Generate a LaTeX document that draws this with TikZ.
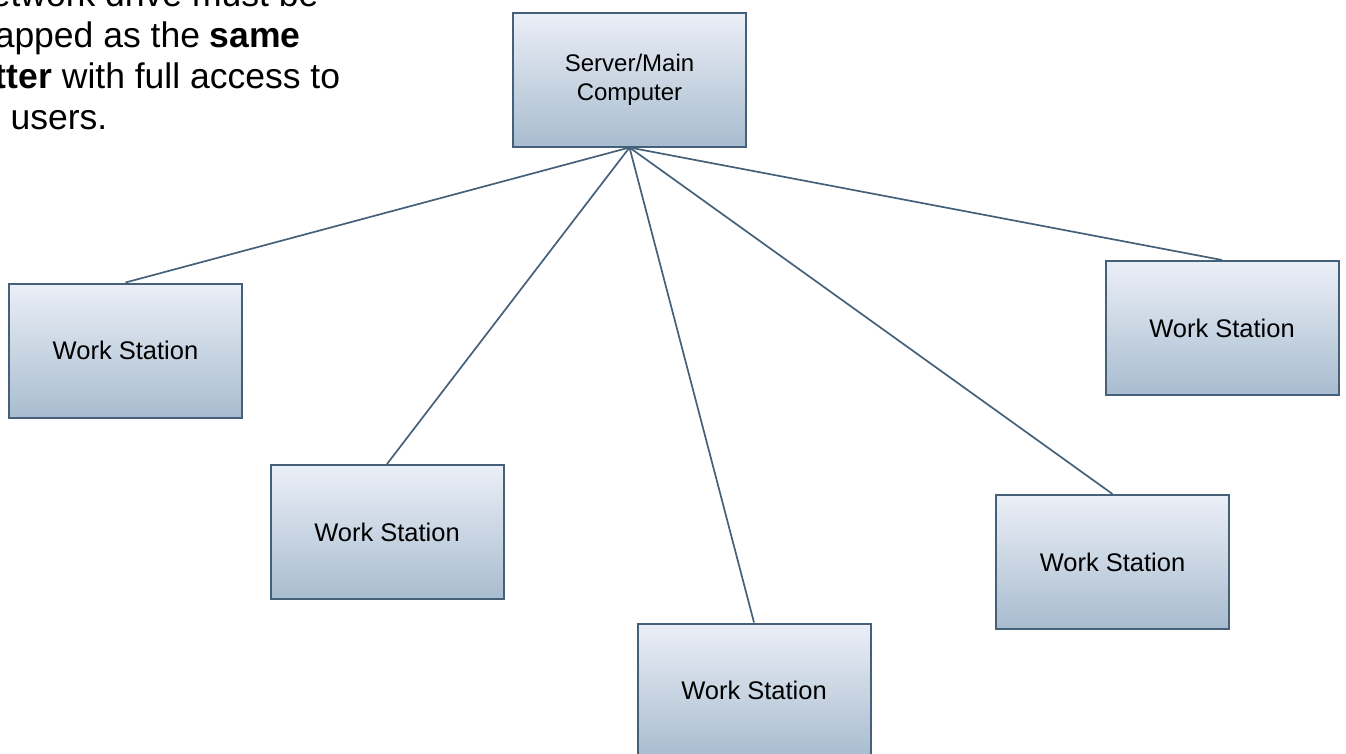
\documentclass[tikz,border=0pt]{standalone}
\usepackage{fontspec}
\setmainfont{Liberation Sans}
\definecolor{wsline}{HTML}{45617A}
\definecolor{wstop}{HTML}{EBEFF7}
\definecolor{wsbot}{HTML}{A8BCCF}

\begin{document}
\begin{tikzpicture}[x=1pt,y=-1pt,
ws/.style={draw=wsline,line width=2pt,rectangle,top color=wstop,bottom color=wsbot,minimum width=233pt,minimum height=134pt,inner sep=0pt,font=\fontsize{25.5}{29}\selectfont,align=center},
srv/.style={ws,font=\fontsize{24}{29}\selectfont},
lnk/.style={draw=wsline,line width=1.7pt}]

\useasboundingbox (0,0) rectangle (1346,753);
\clip (0,0) rectangle (1346,753);

\node[anchor=north west,inner sep=0pt,align=left,font=\fontsize{35.5}{41}\selectfont] (T) at (-35,-19)
{Network drive must be\\mapped as the \textbf{same}\\\textbf{letter} with full access to\\all users.};

\node[srv] (S) at (629.5,79.5) {Server/Main\\Computer};
\node[ws] (1) at (125.5,350.5) {Work Station};
\node[ws] (2) at (387,532) {Work Station};
\node[ws] (3) at (754,690.5) {Work Station};
\node[ws] (4) at (1112.5,562) {Work Station};
\node[ws] (5) at (1222,328) {Work Station};

\draw[lnk] (S.south) -- (1.north);
\draw[lnk] (S.south) -- (2.north);
\draw[lnk] (S.south) -- (3.north);
\draw[lnk] (S.south) -- (4.north);
\draw[lnk] (S.south) -- (5.north);
\end{tikzpicture}
\end{document}
